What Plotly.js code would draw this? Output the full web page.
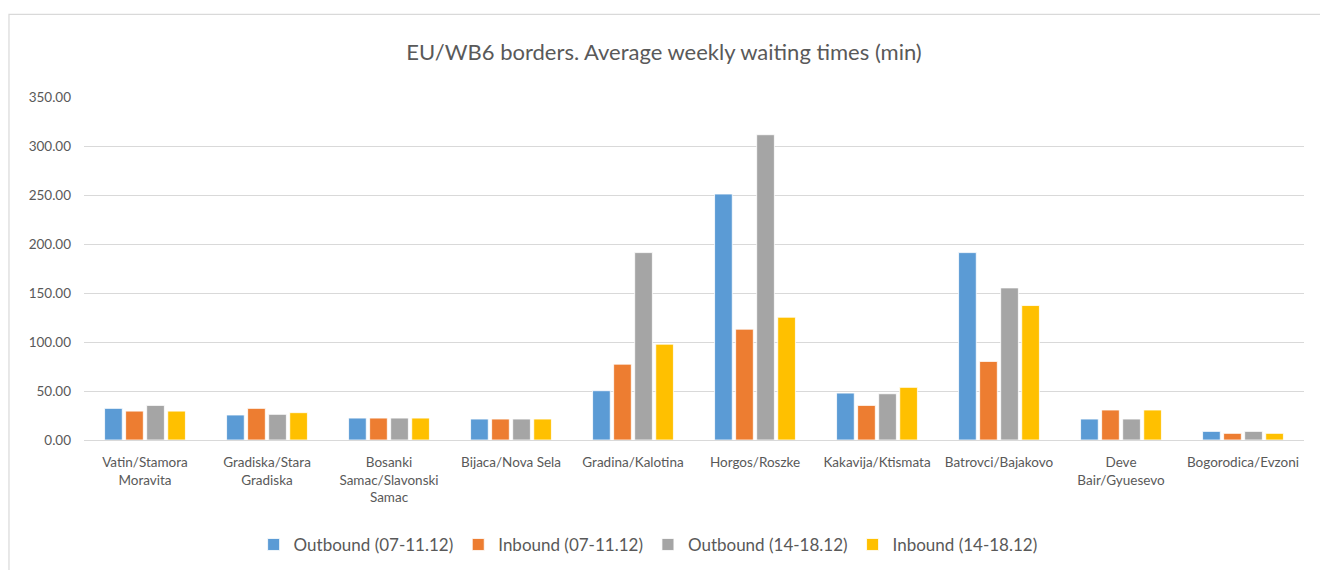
<!DOCTYPE html>
<html>
<head>
<meta charset="utf-8">
<script src="https://cdn.plot.ly/plotly-3.0.1.min.js"></script>
<style>html,body{margin:0;padding:0;background:#fff;}#chart{width:1320px;height:570px;}</style>
</head>
<body>
<div id="chart"></div>
<script>
const categories = [
  "Vatin/Stamora<br>Moravita",
  "Gradiska/Stara<br>Gradiska",
  "Bosanki<br>Samac/Slavonski<br>Samac",
  "Bijaca/Nova Sela",
  "Gradina/Kalotina",
  "Horgos/Roszke",
  "Kakavija/Ktismata",
  "Batrovci/Bajakovo",
  "Deve<br>Bair/Gyuesevo",
  "Bogorodica/Evzoni"
];
const seriesNames = ["Outbound (07-11.12)", "Inbound (07-11.12)", "Outbound (14-18.12)", "Inbound (14-18.12)"];
const outbound1 = [32.3, 25.5, 22.4, 21.4, 50.3, 251.0, 47.9, 191.2, 21.4, 8.8];
const inbound1  = [29.5, 32.3, 22.4, 21.4, 77.4, 113.1, 35.3, 80.2, 30.6, 6.8];
const outbound2 = [35.3, 26.2, 22.4, 21.4, 191.2, 311.5, 47.2, 155.2, 21.4, 8.8];
const inbound2  = [29.5, 27.9, 22.4, 21.4, 97.8, 125.3, 53.7, 137.2, 30.6, 6.8];
const colors = ["#5b9bd5", "#ed7d31", "#a5a5a5", "#ffc000"];

const allSeries = [outbound1, inbound1, outbound2, inbound2];
const traces = allSeries.map((vals, i) => ({
  type: "bar",
  x: categories,
  y: vals,
  name: seriesNames[i],
  marker: {color: colors[i], line: {color: "#ffffff", width: 0.8}},
  hoverinfo: "x+y+name"
}));

const layout = {
  width: 1320,
  height: 570,
  margin: {l: 84, r: 16, t: 97, b: 130},
  paper_bgcolor: "#ffffff",
  plot_bgcolor: "#ffffff",
  font: {family: "Lato, 'Liberation Sans', sans-serif", color: "#595959", size: 13.5},
  title: {
    text: "EU/WB6 borders. Average weekly waiting times (min)",
    font: {family: "Lato, sans-serif", size: 22, color: "#595959"},
    x: 0.503, xanchor: "center", y: 0.908, yanchor: "middle"
  },
  barmode: "group",
  bargap: 0.31,
  bargroupgap: 0.16,
  xaxis: {
    type: "category",
    showgrid: false,
    showline: true,
    linecolor: "#d9d9d9",
    linewidth: 1,
    ticks: "",
    tickangle: 0,
    ticklabelstandoff: 10,
    tickfont: {size: 13.5, color: "#595959"},
    automargin: false
  },
  yaxis: {
    range: [0, 350],
    dtick: 50,
    tick0: 0,
    tickformat: ".2f",
    showgrid: true,
    gridcolor: "#d9d9d9",
    gridwidth: 1,
    zeroline: true,
    zerolinecolor: "#d9d9d9",
    zerolinewidth: 1,
    showline: false,
    ticks: "",
    ticklabelstandoff: 12,
    tickfont: {size: 13.5, color: "#595959"},
    automargin: false
  },
  legend: {
    orientation: "h",
    xref: "container", yref: "container",
    x: 0.491, xanchor: "center",
    y: 0.044, yanchor: "middle",
    font: {size: 17, color: "#595959"},
    itemwidth: 30,
    traceorder: "normal",
    itemclick: false
  },
  shapes: [{
    type: "rect", xref: "paper", yref: "paper",
    x0: -0.0615, x1: 1.05, y0: -0.6, y1: 1.2409,
    line: {color: "#d9d9d9", width: 1.2}, fillcolor: "rgba(0,0,0,0)", layer: "below"
  }],
  showlegend: true
};

Plotly.newPlot("chart", traces, layout, {displayModeBar: false, staticPlot: true});
</script>
</body>
</html>
